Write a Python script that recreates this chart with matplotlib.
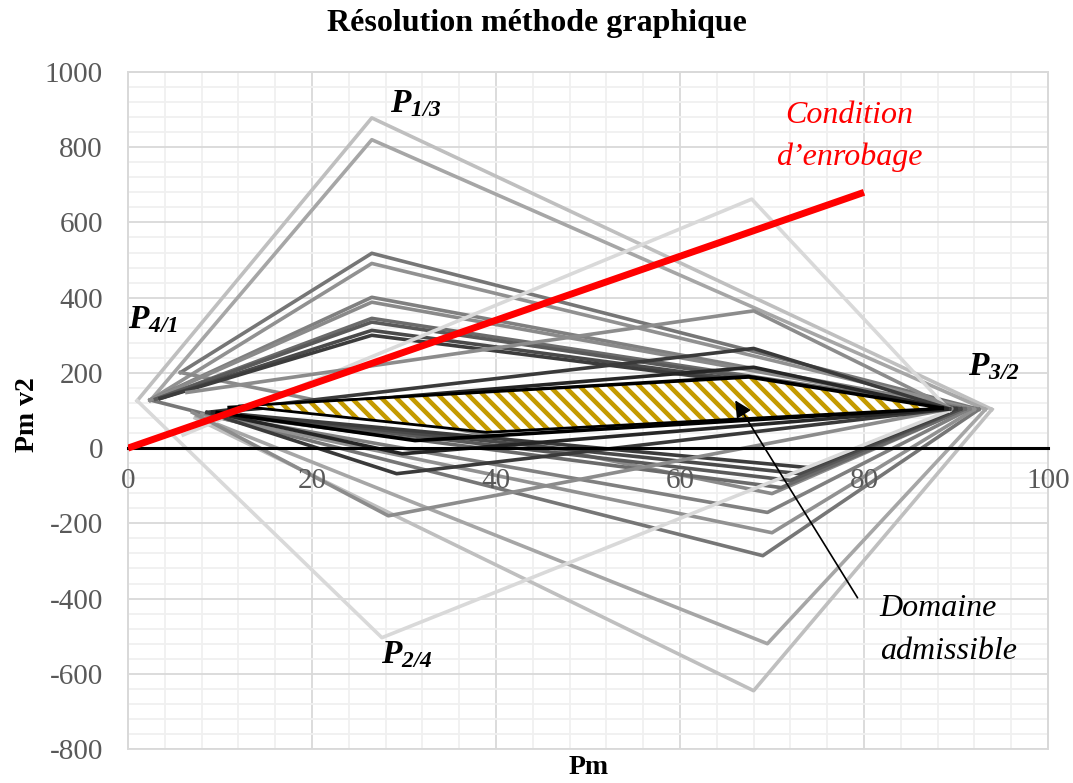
import matplotlib
matplotlib.use("Agg")
import matplotlib.pyplot as plt
import numpy as np
from matplotlib.patches import Polygon, Rectangle
from matplotlib.ticker import MultipleLocator

# droites de sommet haut a x~26.5 (P1/3)
haut_g_x = [1.0, 2.4, 5.7, 2.4, 2.4, 2.4, 3.0, 3.0, 3.5, 3.5]
haut_g_y = [126, 126, 201, 128, 128, 128, 130, 130, 132, 132]
haut_s_x = [26.5, 26.5, 26.5, 26.5, 26.5, 26.5, 26.5, 26.5, 26.5, 26.5]
haut_s_y = [878, 820, 518, 491, 401, 388, 345, 335, 313, 300]
haut_d_x = [93.9, 93.2, 92.5, 92.0, 91.5, 91.0, 91.0, 90.5, 90.5, 90.0]
haut_d_y = [103, 103, 103, 103, 104, 104, 104, 104, 104, 104]

# droites de sommet bas a x~68-74
bas_g_x = [7.3, 7.5, 2.4, 8.0, 8.5, 5.7, 9.0, 9.5, 9.5, 9.7]
bas_g_y = [80, 85, 128, 90, 92, 201, 94, 95, 95, 95]
bas_s_x = [68.0, 69.5, 69.0, 70.0, 69.5, 70.0, 71.0, 72.0, 73.0, 74.0]
bas_s_y = [-645, -520, -286, -225, -171, -121, -105, -86, -68, -52]
bas_d_x = [93.9, 93.2, 92.5, 92.0, 91.5, 91.0, 91.0, 90.5, 90.5, 90.0]
bas_d_y = [103, 103, 103, 103, 104, 104, 104, 104, 104, 104]
couleurs_a = ["#BFBFBF", "#A6A6A6", "#767676", "#919191", "#808080",
              "#8A8A8A", "#6B6B6B", "#5A5A5A", "#4A4A4A", "#3C3C3C"]

# droites de sommet haut a x~68
haut2_g_x = [6.0, 6.4, 8.6, 9.2, 11.0]
haut2_g_y = [35, 148, 95, 95, 108]
haut2_s_x = [67.8, 68.0, 68.0, 68.0, 67.5]
haut2_s_y = [662, 365, 265, 215, 190]
haut2_d_x = [89.3, 89.5, 89.3, 89.0, 88.5]
haut2_d_y = [100, 105, 104, 104, 106]

# droites de sommet bas a x~27-31 (P2/4)
bas2_g_x = [1.0, 7.0, 8.6, 9.2, 9.7]
bas2_g_y = [126, 95, 95, 95, 95]
bas2_s_x = [27.6, 28.3, 29.2, 29.8, 31.2]
bas2_s_y = [-504, -180, -68, -15, 20]
bas2_d_x = [89.3, 89.5, 89.3, 89.0, 88.5]
bas2_d_y = [100, 105, 104, 104, 106]
couleurs_b = ["#D9D9D9", "#8C8C8C", "#3A3A3A", "#262626", "#000000"]

# condition d'enrobage et domaine admissible
enrob_x = [0, 80]
enrob_y = [0, 680]
domaine_x = [12, 67.5, 88.5, 39]
domaine_y = [112, 188, 106, 42]

x_ticks = [0, 20, 40, 60, 80, 100]

plt.rcParams["font.family"] = ["Liberation Serif", "DejaVu Serif"]
plt.rcParams["axes.unicode_minus"] = False
plt.rcParams["mathtext.fontset"] = "custom"
plt.rcParams["mathtext.it"] = "Liberation Serif:italic:bold"
plt.rcParams["mathtext.rm"] = "Liberation Serif:italic:bold"
plt.rcParams["mathtext.bf"] = "Liberation Serif:bold"

fig = plt.figure(figsize=(10.73, 7.83), dpi=100)
ax = fig.add_axes([128 / 1073, 1 - 749 / 783, 920 / 1073, 677 / 783])

ax.set_xlim(0, 100)
ax.set_ylim(-800, 1000)
ax.set_xticks(x_ticks)
ax.xaxis.set_minor_locator(MultipleLocator(4))
ax.yaxis.set_major_locator(MultipleLocator(200))
ax.yaxis.set_minor_locator(MultipleLocator(40))
ax.set_axisbelow(True)
ax.grid(which="major", color="#D9D9D9", lw=1.3)
ax.grid(which="minor", color="#F0F0F0", lw=1.3)

for k in range(len(haut_s_y)):
    ax.plot([haut_g_x[k], haut_s_x[k], haut_d_x[k]],
            [haut_g_y[k], haut_s_y[k], haut_d_y[k]],
            color=couleurs_a[k], lw=2.6, zorder=3)
    ax.plot([bas_g_x[k], bas_s_x[k], bas_d_x[k]],
            [bas_g_y[k], bas_s_y[k], bas_d_y[k]],
            color=couleurs_a[k], lw=2.6, zorder=3)
for k in range(len(haut2_s_y)):
    ax.plot([haut2_g_x[k], haut2_s_x[k], haut2_d_x[k]],
            [haut2_g_y[k], haut2_s_y[k], haut2_d_y[k]],
            color=couleurs_b[k], lw=2.6, zorder=3)
    ax.plot([bas2_g_x[k], bas2_s_x[k], bas2_d_x[k]],
            [bas2_g_y[k], bas2_s_y[k], bas2_d_y[k]],
            color=couleurs_b[k], lw=2.6, zorder=3)

# domaine admissible : fond blanc + hachures dorees
pts = list(zip(domaine_x, domaine_y))
fond = Polygon(pts, closed=True, facecolor="white", lw=0, zorder=4)
ax.add_patch(fond)
# pente "\" a 45 degres a l'ecran
(px0, py0), (px1, py1) = ax.transData.transform([(0, 0), (1, 1)])
pente = -(px1 - px0) / (py1 - py0)
pas = 15 / (px1 - px0)
for x0 in np.arange(min(domaine_x) - 10, max(domaine_x) + 10, pas):
    ln, = ax.plot([x0 - 10, x0 + 10], [200 - pente * 10, 200 + pente * 10],
                  color="#C49A00", lw=3.3, zorder=4.5, solid_capstyle="butt")
    ln.set_clip_path(fond)
ax.add_patch(Polygon(pts, closed=True, fill=False, edgecolor="black",
                     lw=2, zorder=5))

ax.plot(enrob_x, enrob_y, color="#FF0000", lw=5, zorder=6, solid_capstyle="butt")

# axes
for s in ["left", "right", "top"]:
    ax.spines[s].set_color("#D9D9D9")
    ax.spines[s].set_linewidth(1.3)
ax.spines["bottom"].set_position(("data", 0))
ax.spines["bottom"].set_color("black")
ax.spines["bottom"].set_linewidth(2.2)
ax.spines["bottom"].set_zorder(5.5)
ax.add_patch(Rectangle((0, 0), 1, 1, transform=ax.transAxes, fill=False,
                       edgecolor="#D9D9D9", lw=1.3, clip_on=False, zorder=1))
ax.tick_params(axis="x", which="both", length=0, labelbottom=False)
ax.tick_params(axis="y", which="both", length=0, pad=18, labelsize=21,
               labelcolor="#595959")
for xt in x_ticks:
    ax.annotate(str(xt), (xt, 0), xytext=(0, -14), textcoords="offset points",
                ha="center", va="top", fontsize=21, color="#595959",
                zorder=9, annotation_clip=False)

# textes
fig.text(0.5, 1 - 24 / 783, "Résolution méthode graphique", ha="center",
         va="center", fontsize=23, fontweight="bold")
fig.text(589 / 1073, 1 - 768 / 783, "Pm", ha="center", va="center",
         fontsize=20, fontweight="bold")
fig.text(27 / 1073, 1 - 415 / 783, "Pm v2", ha="center", va="center",
         rotation=90, fontsize=20, fontweight="bold")

ax.text(28.5, 893, r"$P_{1/3}$", fontsize=24, va="baseline", ha="left", zorder=7)
ax.text(0.0, 318, r"$P_{4/1}$", fontsize=24, va="baseline", ha="left", zorder=7)
ax.text(91.3, 193, r"$P_{3/2}$", fontsize=24, va="baseline", ha="left", zorder=7)
ax.text(27.5, -571, r"$P_{2/4}$", fontsize=24, va="baseline", ha="left", zorder=7)

ax.text(78.4, 864, "Condition", color="#FF0000", style="italic", fontsize=23,
        ha="center", va="baseline", zorder=7)
ax.text(78.4, 752, "d\u2019enrobage", color="#FF0000", style="italic", fontsize=23,
        ha="center", va="baseline", zorder=7)

ax.text(81.7, -447, "Domaine", style="italic", fontsize=23, ha="left",
        va="baseline", zorder=7)
ax.text(81.7, -562, "admissible", style="italic", fontsize=23, ha="left",
        va="baseline", zorder=7)
ax.annotate("", xy=(66.0, 127), xytext=(79.3, -398),
            arrowprops=dict(arrowstyle="-|>", color="black", lw=1.2,
                            mutation_scale=25, shrinkA=0, shrinkB=0),
            zorder=8)

fig.savefig("out.png", dpi=100)
